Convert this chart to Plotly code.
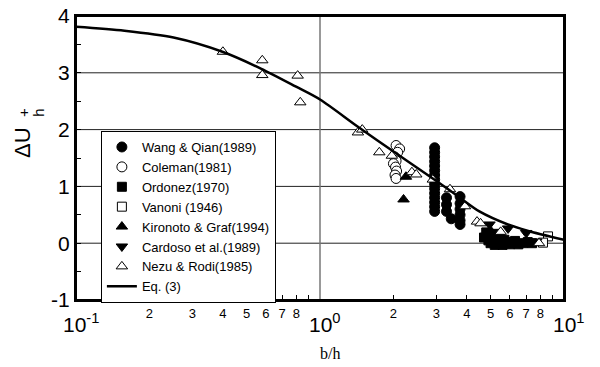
import plotly.graph_objects as go

# ---------------- data ----------------
wang_x = [2.95]*15 + [3.3, 3.3, 3.3, 3.45] + [3.75]*6
wang_y = [1.68, 1.6, 1.52, 1.44, 1.36, 1.28, 1.2, 1.12, 1.04, 0.96, 0.88, 0.8, 0.72, 0.64, 0.56,
          0.8, 0.68, 0.56, 0.43,
          0.82, 0.7, 0.6, 0.5, 0.4, 0.33]

coleman_x = [2.05, 2.12, 2.08, 2.02, 2.05, 2.0, 2.04, 2.06, 2.03, 2.05]
coleman_y = [1.72, 1.66, 1.6, 1.52, 1.45, 1.4, 1.34, 1.27, 1.2, 1.14]

ordonez_x = [4.8, 4.7, 4.9, 5.0, 5.1, 5.2, 5.4, 5.6, 5.8, 6.0, 6.2, 6.5, 6.8, 7.1, 7.4, 5.3, 5.7, 6.3]
ordonez_y = [0.19, 0.1, 0.05, 0.0, 0.1, -0.03, 0.0, -0.03, 0.0, -0.02, 0.02, -0.02, 0.0, 0.02, 0.0, 0.05, 0.06, 0.04]

vanoni_x = [8.6, 8.2]
vanoni_y = [0.12, 0.01]

kironoto_x = [2.25, 2.2, 5.0, 5.5]
kironoto_y = [1.17, 0.77, 0.22, 0.15]

cardoso_x = [4.95, 5.3, 5.9, 7.0, 7.7]
cardoso_y = [0.33, 0.2, 0.26, 0.18, 0.03]

nezu_x = [0.4, 0.58, 0.58, 0.81, 0.83, 1.43, 1.49, 1.75, 1.97, 2.38, 2.48, 2.9, 3.41, 3.93, 4.4, 4.55, 5.5, 7.9]
nezu_y = [3.37, 3.22, 2.96, 2.95, 2.48, 1.95, 2.0, 1.6, 1.54, 1.25, 1.21, 1.12, 0.95, 0.65, 0.38, 0.35, 0.2, 0.0]

eq_x = [0.1, 0.158, 0.251, 0.398, 0.575, 0.794, 1.0, 1.43, 2.07, 2.99, 3.75, 4.5, 5.89, 7.08, 10.0]
eq_y = [3.81, 3.74, 3.62, 3.37, 3.07, 2.76, 2.53, 2.05, 1.57, 1.1, 0.8, 0.56, 0.33, 0.22, 0.06]

x_label_vals = [0.2, 0.3, 0.4, 0.5, 0.6, 0.7, 0.8,
                2, 3, 4, 5, 6, 7, 8]
x_label_text = ['2', '3', '4', '5', '6', '7', '8',
                '2', '3', '4', '5', '6', '7', '8']
x_minor_ticks = [0.2, 0.3, 0.4, 0.5, 0.6, 0.7, 0.8, 0.9,
                 2, 3, 4, 5, 6, 7, 8, 9]
x_major_exp = [-1, 0, 1]          # decades (log10 of 0.1, 1, 10)
x_major_text = ['10<sup>-1</sup>', '10<sup>0</sup>', '10<sup>1</sup>']
y_tickvals = [-1, 0, 1, 2, 3, 4]
y_ticktext = ['-1', '0', '1', '2', '3', '4']
h_grid = [0, 1, 2, 3]
v_grid = [1]

FONT = "Liberation Sans, Arial, Helvetica, sans-serif"

fig = go.Figure()

def pts(name, x, y, symbol, filled, size=10):
    fig.add_trace(go.Scatter(
        x=x, y=y, mode="markers", name=name,
        marker=dict(symbol=symbol, size=size,
                    color="black" if filled else "white",
                    line=dict(color="black", width=1)),
    ))

pts("Wang & Qian(1989)", wang_x, wang_y, "circle", True, 10)
pts("Coleman(1981)", coleman_x, coleman_y, "circle", False, 10)
pts("Ordonez(1970)", ordonez_x, ordonez_y, "square", True, 9)
pts("Vanoni (1946)", vanoni_x, vanoni_y, "square", False, 9)
pts("Kironoto & Graf(1994)", kironoto_x, kironoto_y, "triangle-up", True, 10)
pts("Cardoso et al.(1989)", cardoso_x, cardoso_y, "triangle-down", True, 10)
pts("Nezu & Rodi(1985)", nezu_x, nezu_y, "triangle-up", False, 10)

fig.add_trace(go.Scatter(
    x=eq_x, y=eq_y, mode="lines", name="Eq. (3)",
    line=dict(color="black", width=2.5, shape="spline", smoothing=0.8),
))

# grid lines
for g in h_grid:
    fig.add_shape(type="line", xref="paper", yref="y", x0=0, x1=1, y0=g, y1=g,
                  line=dict(color="#222", width=1), layer="below")
for g in v_grid:
    fig.add_shape(type="line", xref="x", yref="paper", x0=g, x1=g, y0=0, y1=1,
                  line=dict(color="#777", width=1.5), layer="below")
# frame of the plotting area
fig.add_shape(type="rect", xref="paper", yref="paper", x0=0, x1=1, y0=0, y1=1,
              line=dict(color="black", width=2), layer="above")

# big decade labels (annotation x on a log axis is given in log10 units)
for v, t in zip(x_major_exp, x_major_text):
    fig.add_annotation(text=t, x=v, xref="x", y=-0.028, yref="paper", yanchor="top",
                       xanchor="center", xshift=5, showarrow=False,
                       font=dict(family=FONT, size=21, color="black"))

fig.update_xaxes(
    type="log", range=[-1, 1], automargin=False,
    tickmode="array", tickvals=x_label_vals, ticktext=x_label_text,
    ticks="inside", ticklen=5, tickcolor="black", tickwidth=1,
    minor=dict(tickmode="array", tickvals=x_minor_ticks, ticks="inside", ticklen=5,
               tickcolor="black", showgrid=False),
    showgrid=False, zeroline=False,
    showline=True, mirror=True, linecolor="black", linewidth=2,
    tickfont=dict(family=FONT, size=13, color="black"),
)
fig.update_yaxes(
    range=[-1, 4], automargin=False, ticklabeloverflow="allow",
    tickmode="array", tickvals=y_tickvals, ticktext=y_ticktext,
    ticks="inside", ticklen=5, tickcolor="black",
    minor=dict(dtick=0.5, ticks="inside", ticklen=5, tickcolor="black", showgrid=False),
    showgrid=False, zeroline=False,
    showline=True, mirror=True, linecolor="black", linewidth=2,
    tickfont=dict(family=FONT, size=21, color="black"),
)

# axis titles
fig.add_annotation(text="ΔU", xref="paper", yref="paper", x=-0.111, y=0.556,
                   xanchor="center", yanchor="middle",
                   showarrow=False, textangle=-90, font=dict(family=FONT, size=22, color="black"))
fig.add_annotation(text="+", xref="paper", yref="paper", x=-0.106, y=0.659,
                   xanchor="center", yanchor="middle",
                   showarrow=False, textangle=-90, font=dict(family=FONT, size=15, color="black"))
fig.add_annotation(text="h", xref="paper", yref="paper", x=-0.076, y=0.659,
                   xanchor="center", yanchor="middle",
                   showarrow=False, textangle=-90, font=dict(family=FONT, size=15, color="black"))
fig.add_annotation(text="b/h", xref="paper", yref="paper", x=0.52, y=-0.187,
                   xanchor="center", yanchor="middle",
                   showarrow=False, font=dict(family="Liberation Serif, Times New Roman, serif", size=16, color="black"))

fig.update_layout(
    width=592, height=359,
    margin=dict(l=68, r=36, t=8, b=67, autoexpand=False),
    plot_bgcolor="white", paper_bgcolor="white",
    font=dict(family=FONT, color="black"),
    legend=dict(
        x=0.051, y=0.595, xanchor="left", yanchor="top",
        bgcolor="white", bordercolor="black", borderwidth=1,
        font=dict(family=FONT, size=13, color="black"),
        tracegroupgap=0,
    ),
    showlegend=True,
)

fig.write_html("out.html", config={"displayModeBar": False})
